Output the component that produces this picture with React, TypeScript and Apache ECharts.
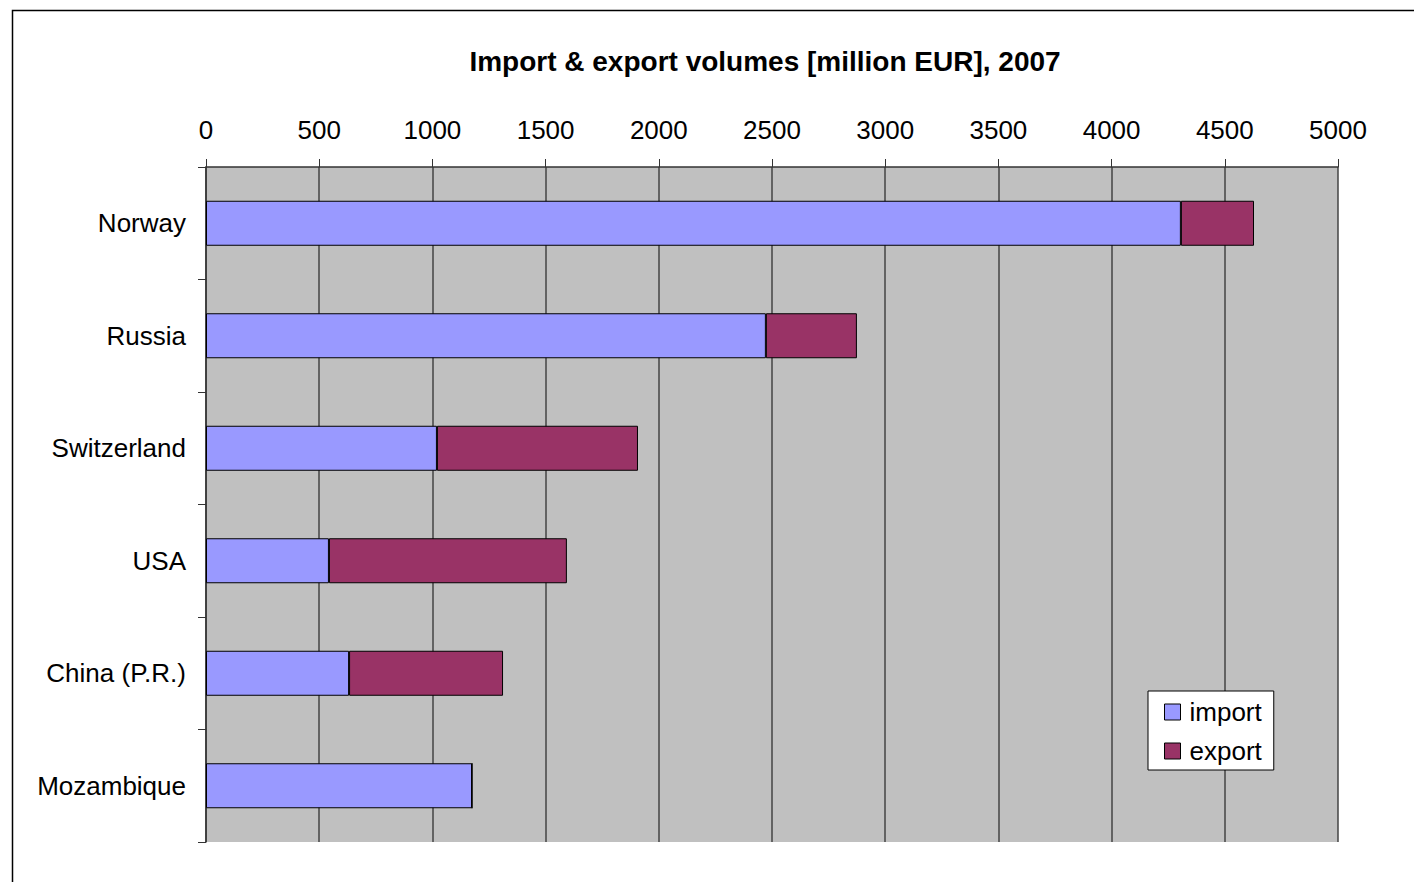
import React, { useEffect, useRef } from "react";
import * as echarts from "echarts";

const categories = ["Norway", "Russia", "Switzerland", "USA", "China (P.R.)", "Mozambique"];
const importValues = [4306, 2473, 1020, 543, 632, 1175];
const exportValues = [323, 402, 888, 1051, 680, 0];
const titleText = "Import & export volumes [million EUR], 2007";

const FONT = "'Liberation Sans', Arial, sans-serif";

export default function App() {
  const ref = useRef<HTMLDivElement>(null);
  useEffect(() => {
    if (!ref.current) return;
    const chart = echarts.init(ref.current, null, { renderer: "svg" });
    chart.setOption({
      animation: false,
      backgroundColor: "#ffffff",
      textStyle: { fontFamily: FONT },
      graphic: [
        {
          type: "rect",
          shape: { x: 12.5, y: 10.5, width: 1420, height: 900 },
          style: { fill: "none", stroke: "#000", lineWidth: 1.5 },
          z: 0,
        },
        {
          type: "text",
          x: 765,
          y: 61,
          style: {
            text: titleText,
            font: `bold 28px ${FONT}`,
            fill: "#000",
            textAlign: "center",
            textVerticalAlign: "middle",
          },
        },
      ],
      grid: { left: 206, top: 167, width: 1132, height: 675, backgroundColor: "#c0c0c0", show: true, borderWidth: 0 },
      legend: {
        orient: "vertical",
        left: 1148,
        top: 691,
        backgroundColor: "#ffffff",
        borderColor: "#000",
        borderWidth: 1,
        padding: [8, 12, 6, 16],
        itemGap: 13,
        itemWidth: 16,
        itemHeight: 16,
        icon: "rect",
        textStyle: { fontSize: 26, color: "#000", fontFamily: FONT, padding: [0, 0, 0, 4] },
        data: [
          { name: "import", itemStyle: { borderColor: "#000", borderWidth: 1 } },
          { name: "export", itemStyle: { borderColor: "#000", borderWidth: 1 } },
        ],
      },
      xAxis: {
        type: "value",
        position: "top",
        min: 0,
        max: 5000,
        interval: 500,
        axisLine: { show: true, lineStyle: { color: "#333", width: 1.5 } },
        axisTick: { show: true, length: 8, inside: false, lineStyle: { color: "#333" } },
        axisLabel: { fontSize: 26, color: "#000", margin: 24, fontFamily: FONT, formatter: (v: number) => String(v) },
        splitLine: { show: true, lineStyle: { color: "#444", width: 1.5 } },
      },
      yAxis: {
        type: "category",
        inverse: true,
        data: categories,
        axisLine: { show: true, lineStyle: { color: "#333", width: 1.5 } },
        axisTick: { show: true, length: 8, lineStyle: { color: "#333" } },
        axisLabel: { fontSize: 26, color: "#000", margin: 20, fontFamily: FONT },
        splitLine: { show: false },
      },
      series: [
        {
          name: "import",
          type: "bar",
          stack: "total",
          data: importValues,
          barWidth: 45,
          itemStyle: { color: "#9999ff", borderColor: "#000", borderWidth: 1 },
        },
        {
          name: "export",
          type: "bar",
          stack: "total",
          data: exportValues,
          barWidth: 45,
          itemStyle: { color: "#993366", borderColor: "#000", borderWidth: 1 },
        },
      ],
    });
    return () => chart.dispose();
  }, []);
  return (
    <div
      ref={ref}
      style={{ position: "fixed", left: 0, top: 0, width: 1414, height: 882 }}
    />
  );
}
